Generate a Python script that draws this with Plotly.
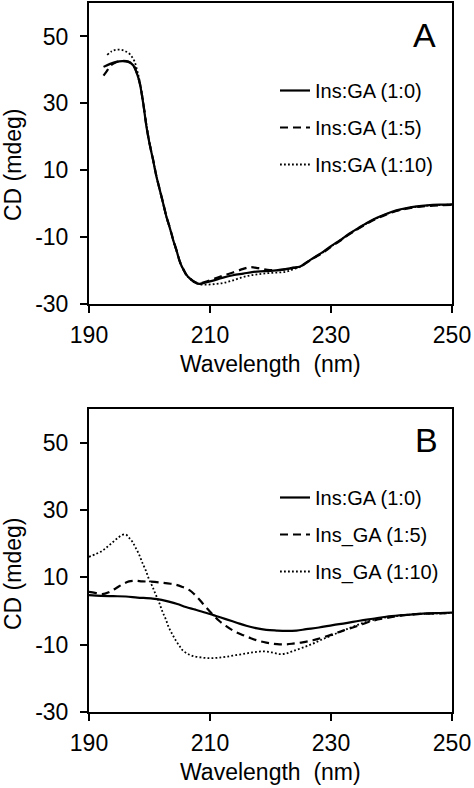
import plotly.graph_objects as go

# ---------------- Data (Panel A) ----------------
a_x_10 = [192.4, 193.5, 194.5, 195.5, 196.5, 197.3, 198.0, 198.4, 199.0, 199.5, 200.0, 200.6,
          201.1, 201.7, 202.2, 202.8, 203.4, 203.9, 204.5, 205.0, 205.6, 206.1, 206.7, 207.2,
          208.2, 209.0, 210.5, 212.0, 213.8, 215.5, 217.2, 219.0, 220.5, 222.0, 223.8, 224.9,
          226.0, 227.1, 228.7, 230.0, 231.5, 233.0, 234.5, 236.0, 237.5, 239.2, 240.8, 242.5,
          244.2, 245.9, 248.0, 250.0]
a_y_10 = [40.9, 41.8, 42.4, 42.6, 42.4, 41.4, 38.5, 35.9, 29.5, 23.0, 18.0, 13.0,
          8.5, 4.1, 0.5, -3.9, -7.5, -10.8, -14.2, -17.3, -19.7, -21.3, -22.4, -23.2,
          -24.0, -23.7, -23.0, -22.2, -21.4, -20.9, -20.4, -20.2, -20.0, -19.7, -19.2, -18.8,
          -17.5, -16.2, -14.4, -12.7, -10.9, -9.0, -7.3, -5.7, -4.3, -3.0, -2.0, -1.3,
          -0.8, -0.5, -0.3, -0.2]

a_x_15 = [192.4, 193.0, 193.5, 194.5, 195.5, 196.5, 197.3, 198.0, 198.4, 199.0, 199.5, 200.0,
          200.6, 201.1, 201.7, 202.2, 202.8, 203.4, 203.9, 204.5, 205.0, 205.6, 206.1, 206.7,
          207.2, 208.2, 209.0, 210.5, 212.0, 213.8, 215.5, 216.6, 218.0, 219.5, 221.0, 222.5,
          223.8, 224.9, 226.0, 227.1, 228.7, 230.0, 231.5, 233.0, 234.5, 236.0, 237.5, 239.2,
          240.8, 242.5, 244.2, 245.9, 248.0, 250.0]
a_y_15 = [38.3, 39.8, 41.2, 42.3, 42.7, 42.5, 41.5, 38.6, 36.0, 29.6, 23.2, 18.1,
          13.1, 8.6, 4.2, 0.6, -3.8, -7.4, -10.7, -14.1, -17.2, -19.6, -21.2, -22.3,
          -23.1, -23.9, -23.5, -22.6, -21.6, -20.6, -19.5, -19.0, -19.3, -19.8, -19.9, -19.6,
          -19.1, -18.8, -17.6, -16.3, -14.6, -12.9, -11.1, -9.2, -7.5, -5.9, -4.5, -3.2,
          -2.2, -1.5, -1.0, -0.7, -0.5, -0.4]

a_x_110 = [193.0, 193.8, 194.5, 195.3, 196.0, 196.8, 197.5, 198.0, 198.4, 199.0, 199.5, 200.0,
           200.6, 201.1, 201.7, 202.2, 202.8, 203.4, 203.9, 204.5, 205.0, 205.6, 206.1, 206.7,
           207.2, 208.2, 209.5, 211.0, 212.2, 213.5, 215.0, 216.5, 218.0, 219.5, 221.0, 222.5,
           223.8, 224.9, 226.0, 227.1, 228.7, 230.0, 231.5, 233.0, 234.5, 236.0, 237.5, 239.2,
           240.8, 242.5, 244.2, 245.9, 248.0, 250.0]
a_y_110 = [44.5, 45.6, 46.0, 46.0, 45.6, 44.6, 42.6, 39.5, 36.4, 30.0, 23.4, 18.2,
           13.1, 8.5, 4.1, 0.4, -4.0, -7.6, -10.9, -14.3, -17.4, -19.8, -21.4, -22.5,
           -23.3, -24.1, -24.2, -24.0, -23.7, -23.1, -22.2, -21.5, -21.1, -20.8, -20.6, -20.4,
           -19.6, -18.9, -17.6, -16.3, -14.5, -12.8, -11.0, -9.1, -7.4, -5.8, -4.4, -3.1,
           -2.1, -1.4, -0.9, -0.6, -0.4, -0.3]

# ---------------- Data (Panel B) ----------------
b_x_10 = [190.0, 192.0, 194.0, 196.1, 198.0, 200.5, 202.0, 203.2, 204.6, 206.0, 207.6, 209.3,
          211.0, 212.6, 214.3, 216.0, 217.6, 219.3, 221.0, 222.6, 224.3, 225.9, 228.0, 230.3,
          232.5, 234.7, 236.9, 239.1, 241.3, 243.5, 246.0, 248.0, 250.0]
b_y_10 = [4.7, 4.5, 4.4, 4.3, 4.0, 3.7, 3.3, 2.8, 2.1, 1.2, 0.4, -0.5,
          -1.5, -2.4, -3.4, -4.4, -5.1, -5.6, -5.8, -5.9, -5.8, -5.4, -4.9, -4.2,
          -3.6, -2.9, -2.3, -1.7, -1.3, -1.0, -0.7, -0.6, -0.5]

b_x_15 = [190.0, 191.0, 192.2, 193.3, 194.4, 195.5, 196.6, 197.7, 198.8, 200.2, 201.6, 203.0,
          204.4, 205.5, 206.6, 207.4, 208.2, 209.0, 209.9, 210.7, 211.5, 212.6, 213.7, 215.1,
          216.5, 217.9, 219.3, 220.4, 221.5, 222.6, 223.7, 225.3, 227.0, 228.6, 230.3, 231.9,
          233.6, 235.2, 236.9, 239.1, 241.3, 243.5, 245.7, 248.0, 250.0]
b_y_15 = [5.7, 5.4, 5.0, 5.6, 6.7, 7.9, 8.8, 9.0, 8.8, 8.7, 8.5, 8.2,
          7.8, 7.1, 6.2, 5.0, 3.5, 1.8, 0.0, -1.5, -2.9, -4.4, -5.7, -6.9,
          -7.9, -8.8, -9.4, -9.7, -9.9, -9.9, -9.7, -9.3, -8.7, -7.9, -6.9, -5.9,
          -4.9, -3.9, -2.9, -2.1, -1.4, -1.0, -0.8, -0.7, -0.6]

b_x_110 = [190.0, 191.1, 192.2, 193.0, 193.9, 194.7, 195.5, 196.1, 196.6, 197.2, 197.7, 198.3,
           198.8, 199.4, 199.9, 200.5, 201.0, 201.6, 202.1, 202.7, 203.2, 203.8, 204.4, 205.0,
           205.5, 206.3, 207.1, 208.5, 209.9, 211.2, 212.6, 214.3, 216.0, 217.4, 218.8, 220.2,
           221.5, 222.6, 223.7, 225.3, 227.0, 228.6, 230.3, 231.9, 233.6, 235.2, 236.9, 239.1,
           241.3, 243.5, 245.7, 248.0, 250.0]
b_y_110 = [16.1, 16.9, 17.9, 19.0, 20.4, 21.6, 22.6, 22.7, 21.8, 20.5, 18.8, 16.7,
           14.4, 12.0, 9.5, 7.2, 5.0, 2.5, 0.0, -2.5, -4.9, -7.0, -8.9, -10.5,
           -11.7, -12.7, -13.3, -13.8, -14.0, -13.9, -13.6, -13.1, -12.6, -12.2, -12.0, -12.3,
           -12.8, -12.6, -11.9, -10.9, -9.7, -8.4, -7.1, -5.9, -4.7, -3.6, -2.7, -1.9,
           -1.4, -1.0, -0.8, -0.7, -0.6]

names_a = ["Ins:GA (1:0)", "Ins:GA (1:5)", "Ins:GA (1:10)"]
names_b = ["Ins:GA (1:0)", "Ins_GA (1:5)", "Ins_GA (1:10)"]

x_ticks = [190, 210, 230, 250]
y_ticks = [-30, -10, 10, 30, 50]
y_tick_labels = ["-30", "-10", "10", "30", "50"]
x_range = [190, 250]
y_range = [-30, 60]

FONT = "Arial, Liberation Sans, sans-serif"
W, H = 474, 788

styles = [
    dict(color="black", width=2.2, dash="solid"),
    dict(color="black", width=2.2, dash="8px,5px"),
    dict(color="black", width=1.8, dash="1.8px,2.2px"),
]

fig = go.Figure()

for i, (xs, ys) in enumerate([(a_x_10, a_y_10), (a_x_15, a_y_15), (a_x_110, a_y_110)]):
    fig.add_trace(go.Scatter(x=xs, y=ys, mode="lines", name=names_a[i], line=styles[i],
                             line_shape="spline", xaxis="x", yaxis="y", legend="legend",
                             legendgroup="a%d" % i))
for i, (xs, ys) in enumerate([(b_x_10, b_y_10), (b_x_15, b_y_15), (b_x_110, b_y_110)]):
    fig.add_trace(go.Scatter(x=xs, y=ys, mode="lines", name=names_b[i], line=styles[i],
                             line_shape="spline", xaxis="x2", yaxis="y2", legend="legend2",
                             legendgroup="b%d" % i))

TICKSIZE = 23

def xax(domain, anchor):
    return dict(domain=domain, anchor=anchor, range=x_range, tickvals=x_ticks,
                showline=True, linecolor="black", linewidth=2, mirror=True,
                ticks="outside", ticklen=7, tickwidth=2, tickcolor="black",
                showgrid=False, zeroline=False, ticklabelstandoff=2, automargin=False,
                tickfont=dict(family=FONT, size=TICKSIZE, color="black"))

def yax(domain, anchor):
    return dict(domain=domain, anchor=anchor, range=y_range, tickvals=y_ticks,
                ticktext=y_tick_labels,
                showline=True, linecolor="black", linewidth=2, mirror=True,
                ticks="outside", ticklen=7, tickwidth=2, tickcolor="black",
                showgrid=False, zeroline=False, ticklabelstandoff=7, automargin=False,
                tickfont=dict(family=FONT, size=TICKSIZE, color="black"))

xd = [89 / W, 452 / W]
ya = [1 - 304 / H, 1 - 3 / H]
yb = [1 - 712 / H, 1 - 409 / H]

leg_common = dict(xanchor="left", yanchor="top", bgcolor="rgba(0,0,0,0)",
                  font=dict(family=FONT, size=20, color="black"),
                  tracegroupgap=8, itemwidth=30)

def ann(text, px, py, size, angle=0):
    return dict(text=text, x=px / W, y=1 - py / H, xref="paper", yref="paper",
                xanchor="center", yanchor="middle", showarrow=False, textangle=angle,
                font=dict(family=FONT, size=size, color="black"))

fig.update_layout(
    width=W, height=H, margin=dict(l=0, r=0, t=0, b=0, autoexpand=False),
    paper_bgcolor="white", plot_bgcolor="white",
    showlegend=True,
    xaxis=xax(xd, "y"), yaxis=yax(ya, "x"),
    xaxis2=xax(xd, "y2"), yaxis2=yax(yb, "x2"),
    legend=dict(x=275 / W, y=1 - 71 / H, **leg_common),
    legend2=dict(x=275 / W, y=1 - 478 / H, **leg_common),
    annotations=[
        ann("A", 424, 35, 34),
        ann("B", 426, 440, 34),
        ann("Wavelength  (nm)", 270, 364, 23),
        ann("Wavelength  (nm)", 270, 772, 23),
        ann("CD (mdeg)", 13, 165, 23, -90),
        ann("CD (mdeg)", 13, 574, 23, -90),
    ],
)

fig.write_html("out.html", config={"displayModeBar": False},
               post_script="document.body.style.margin='0';document.body.style.padding='0';")
